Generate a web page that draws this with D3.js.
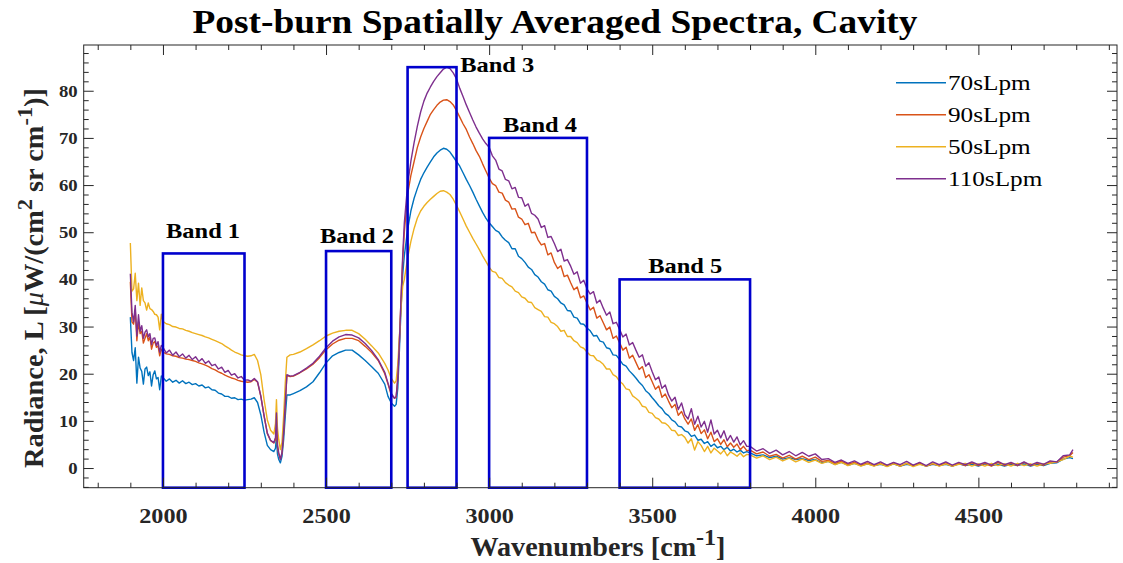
<!DOCTYPE html>
<html><head><meta charset="utf-8">
<script src="https://cdn.jsdelivr.net/npm/d3@7"></script>
<style>body{margin:0;background:#fff}</style>
</head><body><svg id="c" width="1123" height="563"></svg>
<script>
// ---------- DATA ----------
const wavenumbers = [
1900,1905,1910,1915,1920,1925,1930,1935,1940,1945,1950,1955,1960,1965,1970,1975,1980,1985,1990,1995,
2000,2010,2020,2030,2040,2050,2060,2070,2080,2090,2100,2110,2120,2130,2140,2150,2160,2170,2180,2190,2200,2210,2220,2230,2240,2250,2260,2270,2280,
2290,2300,2310,2320,2330,2340,2345,2348,2351,2355,2360,2365,2370,2375,2380,2390,
2400,2420,2440,2460,2480,2500,2520,2540,2560,2580,2600,2620,2640,2660,2680,2690,
2700,2710,2715,2720,2725,2730,2735,2740,2750,2760,2770,2780,2790,2800,2810,2820,2830,2840,2850,2860,2870,2880,2890,2900,2910,2920,2930,2940,2950,2960,2970,2980,2990,
3000,3010,3020,3030,3040,3050,3060,3070,3080,3090,
3100,3110,3120,3130,3140,3150,3160,3170,3180,3190,
3200,3210,3220,3230,3240,3250,3260,3270,3280,3290,
3300,3310,3320,3330,3340,3350,3360,3370,3380,3390,
3400,3410,3420,3430,3440,3450,3460,3470,3480,3490,
3500,3510,3520,3530,3540,3550,3560,3570,3580,3590,
3600,3610,3620,3630,3640,3650,3660,3670,3680,3690,
3700,3710,3720,3730,3740,3750,3760,3770,3780,3790,
3800,3820,3840,3860,3880,3900,3920,3940,3960,3980,
4000,4020,4040,4060,4080,4100,4120,4140,4160,4180,
4200,4220,4240,4260,4280,4300,4320,4340,4360,4380,
4400,4420,4440,4460,4480,4500,4520,4540,4560,4580,
4600,4620,4640,4660,4680,4700,4720,4740,4760,4780,
4790];

const s70 = [
32.0,24.5,22.8,25.5,18.0,23.5,21.2,20.5,17.8,21.0,21.4,19.6,20.4,17.4,19.8,20.6,18.9,19.2,16.6,19.5,
19.2,18.4,18.9,18.2,18.6,18.0,18.5,17.9,18.2,17.7,17.9,17.4,17.6,17.0,17.2,16.6,16.5,15.9,15.7,15.2,15.2,14.8,14.9,14.5,14.6,14.4,14.5,14.6,14.9,
13.9,11.3,7.6,4.8,3.9,3.5,4.2,6.7,3.0,1.8,1.1,2.5,6.0,11.0,15.5,15.5,
15.8,16.4,17.2,18.3,20.2,22.3,23.8,24.5,25.0,25.0,24.0,22.8,21.5,20.1,17.8,15.2,
13.8,13.1,13.5,17.0,25.0,34.0,41.0,45.0,50.5,54.5,57.2,59.3,61.2,62.6,63.8,64.9,66.0,66.8,67.4,67.8,67.6,67.0,66.0,65.0,64.0,62.6,61.2,59.9,58.5,57.0,55.6,54.2,53.0,
52.0,51.2,50.4,50.0,49.0,48.3,47.8,46.5,46.5,44.9,
44.4,43.6,42.6,42.1,41.0,40.5,39.5,39.0,37.8,37.5,
36.4,35.9,35.0,34.6,33.4,33.3,32.0,31.8,30.6,30.5,
29.7,29.1,28.0,28.1,26.9,26.7,25.5,25.3,24.0,23.9,
23.0,22.0,21.6,20.6,19.9,19.1,18.2,17.5,16.4,15.8,
14.9,14.1,13.2,12.6,11.6,11.1,10.2,9.8,8.9,8.7,
7.9,7.6,6.7,7.0,5.9,6.1,5.2,5.6,4.6,5.1,
4.3,4.6,3.9,4.4,3.6,4.0,3.4,3.8,3.2,3.5,
3.2,2.6,2.8,2.2,2.5,1.9,2.2,1.8,2.0,1.6,
1.8,1.1,1.4,0.8,1.2,0.6,1.0,0.5,0.9,0.5,
0.8,0.4,0.9,0.4,0.8,0.5,0.9,0.4,0.8,0.5,
0.8,0.4,0.9,0.5,0.8,0.4,0.9,0.5,0.8,0.4,
0.8,0.5,0.9,0.4,0.8,0.5,1.0,1.1,1.9,2.2,
2.0];

const s90 = [
39.5,31.0,30.5,33.5,27.0,31.0,28.5,29.0,26.5,27.5,28.5,27.0,27.8,25.2,26.5,26.8,25.6,25.9,23.8,25.2,
24.6,24.2,24.1,23.8,23.7,23.4,23.3,23.1,23.0,22.8,22.6,22.3,22.1,21.8,21.5,21.1,20.8,20.4,20.1,19.7,19.4,19.1,18.9,18.6,18.4,18.3,18.2,18.3,18.8,
18.2,15.2,11.0,7.3,5.8,5.3,6.0,9.0,4.5,3.0,1.9,3.2,7.5,13.5,19.6,19.4,
19.5,20.2,21.0,22.0,23.4,25.1,26.3,27.1,27.5,27.5,27.0,25.8,24.5,22.8,20.0,17.8,
15.5,14.8,15.0,19.0,27.0,36.0,44.0,50.0,58.0,62.0,65.0,68.0,70.2,72.0,73.5,75.0,76.0,76.9,77.6,78.0,78.1,77.7,77.0,75.8,74.4,73.0,71.8,70.2,68.8,67.3,66.1,64.5,63.0,
61.5,60.3,59.9,58.5,58.3,56.8,56.4,54.9,55.0,53.2,
52.8,51.6,51.9,49.9,50.0,48.4,47.3,47.6,45.2,45.6,
43.6,42.3,42.9,40.6,40.9,39.3,37.8,38.4,36.1,36.5,
35.0,33.5,34.1,31.8,32.3,30.8,29.3,29.9,27.5,28.0,
26.6,25.0,25.6,23.3,23.9,22.4,20.9,21.5,19.2,19.8,
18.3,16.7,17.4,15.0,15.7,14.2,12.8,13.5,11.2,12.0,
10.4,9.3,10.4,8.0,9.2,7.3,8.1,6.2,7.6,5.6,
6.2,5.0,6.0,4.5,5.3,4.4,5.1,3.9,4.6,3.7,
3.8,3.0,3.4,2.5,2.9,2.1,2.7,1.9,2.5,1.8,
2.3,1.4,1.6,1.0,1.4,0.8,1.2,0.6,1.1,0.5,
1.0,0.5,1.1,0.4,1.0,0.5,1.1,0.4,0.9,0.5,
1.1,0.4,1.0,0.5,1.1,0.5,1.0,0.4,1.2,0.5,
1.0,0.5,1.2,0.5,1.0,0.6,1.3,1.2,2.3,2.6,
3.3];

const s50 = [
47.7,37.5,38.0,41.3,35.5,39.2,34.5,38.2,35.5,35.0,33.5,35.0,33.8,33.6,33.2,32.6,32.5,32.0,29.3,32.6,
31.1,30.6,30.4,30.0,29.9,29.6,29.5,29.2,29.0,28.7,28.5,28.3,28.1,27.8,27.6,27.3,27.0,26.7,26.4,25.9,25.5,25.0,24.6,24.3,24.0,23.8,23.7,23.8,24.1,
22.8,19.8,14.5,10.2,8.0,7.2,9.5,14.5,8.5,6.0,3.9,5.5,11.0,18.0,23.5,24.0,
24.1,24.6,25.3,26.1,27.0,28.0,28.6,29.0,29.2,29.2,28.5,27.3,25.9,24.4,22.2,20.8,
19.0,18.0,18.5,22.0,28.0,34.0,38.5,40.0,44.5,48.0,50.8,53.0,54.5,55.5,56.3,57.0,57.6,58.2,58.7,58.8,58.5,58.0,57.0,55.7,54.3,52.8,51.3,50.0,48.7,47.5,46.3,45.0,43.8,
42.6,41.7,41.5,40.4,40.2,39.3,38.8,38.4,37.5,37.2,
36.3,36.0,35.2,35.1,34.0,33.6,33.2,32.1,32.0,30.9,
30.6,30.0,29.0,29.2,27.9,27.9,27.0,26.6,25.7,25.4,
24.6,23.9,23.8,22.9,22.6,22.0,21.0,21.0,19.8,19.4,
18.4,17.8,16.8,16.6,15.3,14.8,14.2,13.1,12.9,11.8,
11.6,10.7,10.4,9.6,9.5,8.9,8.0,7.9,6.9,7.1,
6.5,5.3,6.2,3.8,5.6,4.8,3.5,4.6,3.2,4.2,
3.6,3.0,3.8,2.6,3.4,3.0,2.5,3.2,2.4,2.9,
2.8,2.1,2.6,1.8,2.3,1.5,2.1,1.3,1.9,1.2,
1.7,1.0,1.4,0.7,1.2,0.5,1.0,0.4,0.9,0.4,
0.9,0.3,0.9,0.4,1.0,0.3,0.8,0.4,1.0,0.4,
0.9,0.4,0.8,1.0,0.4,0.9,0.4,1.0,0.5,0.9,
0.4,1.0,0.5,0.9,0.4,0.9,1.0,1.3,1.8,2.5,
2.3];

const s110 = [
41.2,33.0,31.0,34.5,28.0,32.5,29.0,30.2,27.5,28.8,29.3,27.8,28.5,26.2,27.5,27.6,26.0,26.8,24.6,26.0,
25.6,24.4,25.0,23.9,24.6,23.6,24.2,23.3,23.9,23.0,23.6,22.6,23.2,22.2,22.7,21.7,22.0,21.0,21.4,20.3,20.7,19.7,20.0,19.1,19.4,18.6,18.7,18.4,19.0,
18.3,15.3,11.1,7.4,5.9,5.4,6.5,11.7,5.0,3.2,1.8,3.3,7.8,13.8,19.8,19.5,
19.6,20.3,21.2,22.2,23.7,25.5,26.9,27.8,28.3,28.2,27.6,26.4,24.9,23.0,20.3,18.0,
15.8,14.8,15.2,19.0,27.0,36.0,45.0,52.0,60.0,65.0,69.0,72.5,75.5,77.8,79.5,80.8,82.0,83.0,83.8,84.6,85.0,84.7,83.8,82.5,80.5,78.8,77.0,75.4,73.8,72.3,71.0,69.8,68.8,
68.0,66.2,65.3,63.4,63.0,61.2,60.9,59.2,59.5,57.4,
57.3,55.5,56.0,54.0,53.6,52.8,51.0,51.4,48.9,49.1,
47.6,45.9,46.4,43.9,44.2,42.8,41.1,41.6,39.2,39.8,
38.0,36.9,37.4,35.0,35.6,33.9,32.4,33.1,30.6,30.9,
29.4,27.8,28.4,26.1,26.6,25.0,23.5,24.0,21.6,22.3,
20.4,18.7,19.3,16.9,17.6,15.5,14.2,15.0,12.4,13.8,
11.3,10.4,12.6,9.3,11.0,8.7,9.9,7.6,10.2,7.2,
8.0,6.4,7.9,5.8,6.9,5.5,6.6,4.9,5.8,4.6,
4.6,3.6,4.1,3.1,3.8,2.8,3.5,2.6,3.3,2.5,
3.0,1.8,2.0,1.2,1.7,1.0,1.5,0.8,1.4,0.7,
1.3,0.6,1.2,0.7,1.4,0.6,1.2,0.5,1.3,0.7,
1.3,0.6,1.2,0.7,1.3,0.7,1.2,0.6,1.4,0.7,
1.2,0.6,1.3,0.6,1.2,0.8,1.5,1.3,2.6,2.8,
3.9];

const seriesNames = ["70sLpm", "90sLpm", "50sLpm", "110sLpm"];
const seriesColors = ["#0072BD", "#D95319", "#EDB120", "#7E2F8E"];
const seriesValues = [s70, s90, s50, s110];

const bandNames = ["Band 1", "Band 2", "Band 3", "Band 4", "Band 5"];
const bandStart = [2000, 2500, 2750, 3000, 3400];
const bandEnd = [2250, 2700, 2900, 3300, 3800];
const bandTop = [45.5, 46, 85, 70, 40];
const bandLabelX = [2123, 2595, 3025, 3156, 3601];
const bandLabelY = [48.7, 47.8, 84.0, 71.3, 41.3];

const xMajorTicks = [2000, 2500, 3000, 3500, 4000, 4500];
const yMajorTicks = [0, 10, 20, 30, 40, 50, 60, 70, 80];

// ---------- CHART ----------
const svg = d3.select("#c");
const L = 83.7, R = 1117, T = 45, B = 487.7;
const x = d3.scaleLinear().domain([1757, 4925]).range([L, R]);
const y = d3.scaleLinear().domain([-4.17, 89.7]).range([B, T]);
const xMinor = d3.range(1800, 4901, 100).filter(v => !xMajorTicks.includes(v));
const yMinor = d3.range(-4, 89, 2).filter(v => !yMajorTicks.includes(v));
const axisColor = "#262626";
const serif = "'Liberation Serif', 'Times New Roman', serif";

function stretch(sel, f) {
  sel.each(function () {
    const w = this.getComputedTextLength();
    d3.select(this).attr("textLength", w * f).attr("lengthAdjust", "spacingAndGlyphs");
  });
}

svg.append("defs").append("clipPath").attr("id", "clip")
  .append("rect").attr("x", L).attr("y", T).attr("width", R - L).attr("height", B - T);

// curves
const line = d3.line().x((d, i) => x(wavenumbers[i])).y(d => y(d));
const curves = svg.append("g").attr("clip-path", "url(#clip)");
seriesValues.forEach((vals, k) => {
  curves.append("path").datum(vals)
    .attr("d", line)
    .attr("fill", "none")
    .attr("stroke", seriesColors[k])
    .attr("stroke-width", 1.4)
    .attr("stroke-linejoin", "round");
});

// band boxes
const bands = svg.append("g");
bandNames.forEach((name, i) => {
  bands.append("rect")
    .attr("x", x(bandStart[i]))
    .attr("y", y(bandTop[i]))
    .attr("width", x(bandEnd[i]) - x(bandStart[i]))
    .attr("height", y(y.domain()[0]) - y(bandTop[i]))
    .attr("fill", "none")
    .attr("stroke", "#0000CD")
    .attr("stroke-width", 2.6);
  bands.append("text")
    .attr("x", x(bandLabelX[i]))
    .attr("y", y(bandLabelY[i]))
    .attr("text-anchor", "middle")
    .attr("font-family", serif)
    .attr("font-weight", "bold")
    .attr("font-size", 22)
    .attr("fill", "#000")
    .text(name);
});
stretch(bands.selectAll("text"), 1.11);

// axes
function styleAxis(g) {
  g.select(".domain").remove();
  g.selectAll(".tick line").attr("stroke", axisColor).attr("stroke-width", 1);
}
const gxB = svg.append("g").attr("transform", `translate(0,${B})`)
  .call(d3.axisBottom(x).tickValues(xMajorTicks).tickSizeInner(-10).tickSizeOuter(0).tickPadding(20).tickFormat(d3.format("d")));
styleAxis(gxB);
gxB.selectAll("text").attr("font-family", serif).attr("font-weight", "bold").attr("font-size", 22).attr("fill", axisColor);
stretch(gxB.selectAll("text"), 1.1);
svg.append("g").attr("transform", `translate(0,${B})`)
  .call(d3.axisBottom(x).tickValues(xMinor).tickSizeInner(-5).tickSizeOuter(0).tickFormat(""))
  .call(styleAxis);
svg.append("g").attr("transform", `translate(0,${T})`)
  .call(d3.axisTop(x).tickValues(xMajorTicks).tickSizeInner(-10).tickSizeOuter(0).tickFormat(""))
  .call(styleAxis);
svg.append("g").attr("transform", `translate(0,${T})`)
  .call(d3.axisTop(x).tickValues(xMinor).tickSizeInner(-5).tickSizeOuter(0).tickFormat(""))
  .call(styleAxis);

const gyL = svg.append("g").attr("transform", `translate(${L},0)`)
  .call(d3.axisLeft(y).tickValues(yMajorTicks).tickSizeInner(-10).tickSizeOuter(0).tickPadding(6).tickFormat(d3.format("d")));
styleAxis(gyL);
gyL.selectAll("text").attr("font-family", serif).attr("font-weight", "bold").attr("font-size", 17).attr("fill", axisColor);
stretch(gyL.selectAll("text"), 1.1);
svg.append("g").attr("transform", `translate(${L},0)`)
  .call(d3.axisLeft(y).tickValues(yMinor).tickSizeInner(-5).tickSizeOuter(0).tickFormat(""))
  .call(styleAxis);
svg.append("g").attr("transform", `translate(${R},0)`)
  .call(d3.axisRight(y).tickValues(yMajorTicks).tickSizeInner(-10).tickSizeOuter(0).tickFormat(""))
  .call(styleAxis);
svg.append("g").attr("transform", `translate(${R},0)`)
  .call(d3.axisRight(y).tickValues(yMinor).tickSizeInner(-5).tickSizeOuter(0).tickFormat(""))
  .call(styleAxis);

svg.append("rect").attr("x", L).attr("y", T).attr("width", R - L).attr("height", B - T)
  .attr("fill", "none").attr("stroke", axisColor).attr("stroke-width", 1);

// title
svg.append("text").attr("x", 555).attr("y", 33).attr("text-anchor", "middle")
  .attr("font-family", serif).attr("font-weight", "bold").attr("font-size", 33).attr("fill", "#000")
  .attr("textLength", 725).attr("lengthAdjust", "spacingAndGlyphs")
  .text("Post-burn Spatially Averaged Spectra, Cavity");

// x label
const xl = svg.append("text").attr("x", 598).attr("y", 556).attr("text-anchor", "middle")
  .attr("font-family", serif).attr("font-weight", "bold").attr("font-size", 28).attr("fill", axisColor);
xl.append("tspan").text("Wavenumbers [cm");
xl.append("tspan").attr("dy", -11).attr("font-size", 24).text("-1");
xl.append("tspan").attr("dy", 11).text("]");
xl.attr("textLength", 255).attr("lengthAdjust", "spacingAndGlyphs");

// y label
const yl = svg.append("text").attr("transform", "translate(43,278) rotate(-90)").attr("text-anchor", "middle")
  .attr("font-family", serif).attr("font-weight", "bold").attr("font-size", 28).attr("fill", axisColor);
yl.append("tspan").text("Radiance, L [");
yl.append("tspan").attr("font-style", "italic").attr("font-weight", "normal").text("\u03BC");
yl.append("tspan").text("W/(cm");
yl.append("tspan").attr("dy", -11).attr("font-size", 22).text("2");
yl.append("tspan").attr("dy", 11).text(" sr cm");
yl.append("tspan").attr("dy", -11).attr("font-size", 22).text("-1");
yl.append("tspan").attr("dy", 11).text(")]");
yl.attr("textLength", 380).attr("lengthAdjust", "spacingAndGlyphs");

// legend
const lg = svg.append("g");
seriesNames.forEach((name, k) => {
  const ly = 82.7 + k * 32;
  lg.append("line").attr("x1", 896).attr("x2", 946).attr("y1", ly).attr("y2", ly)
    .attr("stroke", seriesColors[k]).attr("stroke-width", 1.6);
  lg.append("text").attr("x", 948).attr("y", ly + 7.5)
    .attr("font-family", serif).attr("font-size", 21).attr("fill", "#000").text(name);
});
stretch(lg.selectAll("text"), 1.2);
</script>
</body></html>
